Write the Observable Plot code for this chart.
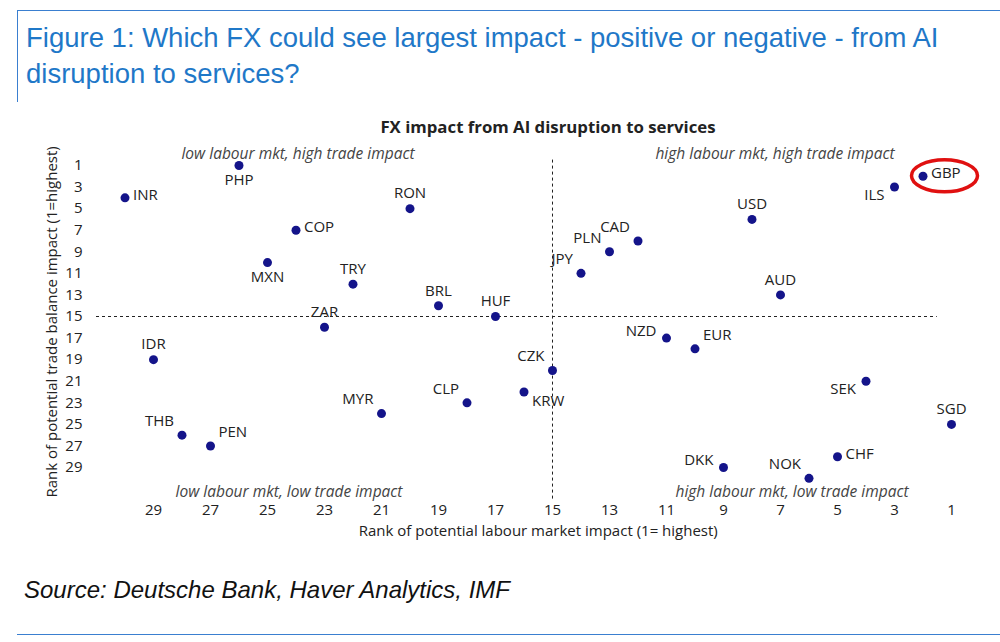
<!DOCTYPE html>
<html><head><meta charset="utf-8">
<script src="https://cdn.jsdelivr.net/npm/d3@7"></script>
<script src="https://cdn.jsdelivr.net/npm/@observablehq/plot@0.6"></script>
<style>
body{margin:0;width:1000px;height:642px;position:relative;background:#fff;overflow:hidden;font-family:"Open Sans",sans-serif}
.abs{position:absolute;white-space:nowrap}
.corner{font-style:italic;color:#444;font-size:15.5px;transform:translateX(-50%)}
</style></head><body>
<div class="abs" style="left:17px;top:10px;width:983px;border-top:1.5px solid #3a7fd0"></div>
<div class="abs" style="left:17px;top:10px;height:92px;border-left:1.5px solid #3a7fd0"></div>
<div class="abs" style="left:26px;top:20px;font-family:'Liberation Sans',Arial,sans-serif;font-size:27.5px;color:#1f78c8;line-height:36px;white-space:normal;width:920px">Figure 1: Which FX could see largest impact - positive or negative - from AI disruption to services?</div>
<div class="abs" style="left:548px;top:115px;transform:translateX(-50%);font-weight:bold;font-size:16.8px;color:#222">FX impact from AI disruption to services</div>
<div id="chart" class="abs" style="left:0;top:110px"></div>
<div class="abs corner" style="left:298px;top:142px">low labour mkt, high trade impact</div>
<div class="abs corner" style="left:775px;top:142px">high labour mkt, high trade impact</div>
<div class="abs corner" style="left:289px;top:480px">low labour mkt, low trade impact</div>
<div class="abs corner" style="left:792px;top:480px">high labour mkt, low trade impact</div>
<div class="abs" style="left:24px;top:576px;font-family:'Liberation Sans',Arial,sans-serif;font-style:italic;font-size:24px;color:#111">Source: Deutsche Bank, Haver Analytics, IMF</div>
<div class="abs" style="left:17px;top:634px;width:983px;border-top:1.5px solid #3a7fd0"></div>
<script>
const currencies = ["INR","PHP","RON","COP","MXN","TRY","ZAR","BRL","HUF","IDR","THB","PEN","MYR","CLP","KRW","CZK","JPY","PLN","CAD","NZD","EUR","USD","AUD","DKK","NOK","CHF","SEK","ILS","GBP","SGD"];
const labourRank = [30,26,20,24,25,22,23,19,17,29,28,27,21,18,16,15,14,13,12,11,10,8,7,9,6,5,4,3,2,1];
const tradeRank  = [4,1,5,7,10,12,16,14,15,19,26,27,24,23,22,20,11,9,8,17,18,6,13,29,30,28,21,3,2,25];
const labelSide  = ["r","b","a","r","b","a","a","a","a","a","al","ar","al","al","rb","al","al","al","al","la","ar","a","a","la","al","r","lb","lb","r","a"];
const xTicks = d3.range(29,0,-2);
const yTicks = d3.range(1,30,2);
const off = {r:[8,-3,"start"],b:[0,15,"middle"],a:[0,-15,"middle"],al:[-8,-14,"end"],ar:[8,-14,"start"],rb:[8,9,"start"],la:[-10,-7,"end"],lb:[-10,8,"end"]};
const data = currencies.map((c,i)=>({c,x:labourRank[i],y:tradeRank[i],s:labelSide[i]}));
const labels = Object.keys(off).map(k=>Plot.text(data.filter(d=>d.s===k),{x:"x",y:"y",text:"c",dx:off[k][0],dy:off[k][1],textAnchor:off[k][2],fontSize:15,fill:"#222"}));
const plot = Plot.plot({
  width:1000,height:440,marginTop:33.4,marginBottom:50.6,marginLeft:96,marginRight:20.5,
  style:{fontFamily:"Open Sans, sans-serif",fontSize:"15px",color:"#222"},
  x:{domain:[31,0],ticks:xTicks,tickSize:0,tickPadding:4,label:"Rank of potential labour market impact (1= highest)",labelAnchor:"center",labelArrow:false,labelOffset:36},
  y:{domain:[-1,32],reverse:true,ticks:yTicks,tickSize:0,tickPadding:14,label:"Rank of potential trade balance impact (1=highest)",labelAnchor:"center",labelArrow:false,labelOffset:50},
  marks:[
    Plot.ruleX([15],{y1:0.5,y2:32,strokeDasharray:"3,3",stroke:"#222"}),
    Plot.ruleY([15],{x1:31,x2:1.5,strokeDasharray:"3,3",stroke:"#222"}),
    Plot.dot(data,{x:"x",y:"y",r:4.5,fill:"#14148a"}),
    ...labels
  ]
});
document.getElementById("chart").appendChild(plot);
const sx=plot.scale("x"), sy=plot.scale("y");
const g=data.find(d=>d.c==="GBP");
d3.select(plot).append("ellipse").attr("cx",sx.apply(g.x)+22).attr("cy",sy.apply(g.y)).attr("rx",33).attr("ry",16).attr("fill","none").attr("stroke","#e01010").attr("stroke-width",3.5);
</script>
</body></html>
